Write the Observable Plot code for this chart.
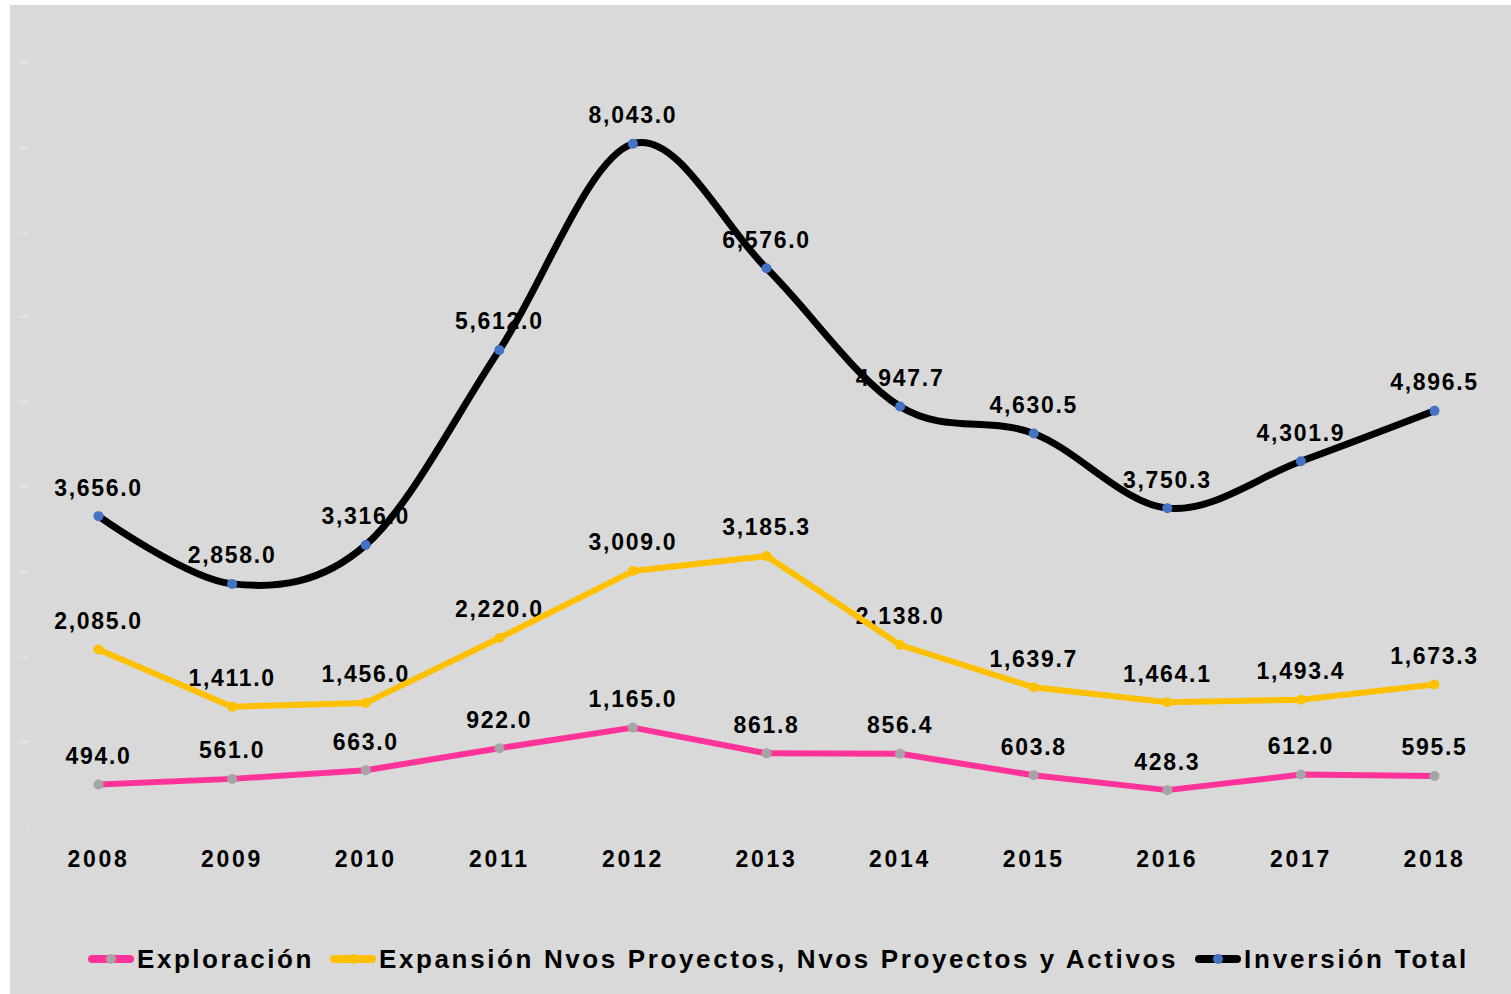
<!DOCTYPE html>
<html>
<head>
<meta charset="utf-8">
<script src="https://cdn.jsdelivr.net/npm/d3@7"></script>
<script src="https://cdn.jsdelivr.net/npm/@observablehq/plot@0.6"></script>
<style>
  html, body { margin: 0; padding: 0; background: #ffffff; width: 1511px; height: 994px; overflow: hidden; }
  #bg { position: absolute; left: 10px; top: 5px; width: 1501px; height: 989px; background: #d9d9d9;
        font-family: "Liberation Sans", Arial, sans-serif; }
  #chart { position: absolute; left: 0; top: 0; }
  #chart svg { background: transparent; }
  .xlab text { letter-spacing: 2.7px; }
  .vlab text { letter-spacing: 1.7px; }
  #legend { position: absolute; top: 931px; left: 0; width: 1501px; height: 46px; }
  .item { position: absolute; top: 0; height: 46px; display: flex; align-items: center; }
  .sw { position: relative; width: 46px; height: 46px; }
  .sw .ln { position: absolute; left: 0; right: 0; top: 19px; height: 8px; border-radius: 4px; }
  .sw .dt { position: absolute; left: 18px; top: 18px; width: 10px; height: 10px; border-radius: 5px; }
  .lt { font-size: 26px; font-weight: bold; color: #000; letter-spacing: 2px; margin-left: 3px; white-space: nowrap; }
</style>
</head>
<body>
<div id="bg">
  <div id="chart"></div>
  <div id="legend"></div>
</div>
<script>
const years = [2008, 2009, 2010, 2011, 2012, 2013, 2014, 2015, 2016, 2017, 2018];
const exploracion = [494.0, 561.0, 663.0, 922.0, 1165.0, 861.8, 856.4, 603.8, 428.3, 612.0, 595.5];
const expansion = [2085.0, 1411.0, 1456.0, 2220.0, 3009.0, 3185.3, 2138.0, 1639.7, 1464.1, 1493.4, 1673.3];
const inversionTotal = [3656.0, 2858.0, 3316.0, 5612.0, 8043.0, 6576.0, 4947.7, 4630.5, 3750.3, 4301.9, 4896.5];
const seriesNames = ["Exploración", "Expansión Nvos Proyectos, Nvos Proyectos y Activos", "Inversión Total"];
const lineColors = ["#ff3399", "#ffc000", "#000000"];
const dotColors = ["#a5a5a5", "#ffc000", "#4472c4"];
const yTicks = [0, 1000, 2000, 3000, 4000, 5000, 6000, 7000, 8000, 9000];

const toRows = (vals) => years.map((y, i) => ({year: y, value: vals[i]}));
const expl = toRows(exploracion), expa = toRows(expansion), tot = toRows(inversionTotal);
const fmt = d3.format(",.1f");

const textOpts = {x: "year", y: "value", text: d => fmt(d.value), dy: -28, fontSize: 23,
  fontWeight: "bold", fill: "#000", fontFamily: "Liberation Sans, Arial, sans-serif", className: "vlab"};

const chart = Plot.plot({
  width: 1501,
  height: 900,
  marginLeft: 88,
  marginRight: 77,
  marginTop: 57,
  marginBottom: 79,
  style: {background: "transparent", fontFamily: "Liberation Sans, Arial, sans-serif"},
  x: {domain: [2008, 2018], ticks: years, tickFormat: d => String(d)},
  y: {domain: [0, 9000]},
  marks: [
    Plot.axisY({ticks: yTicks, tickFormat: d3.format(","), tickSize: 0, tickPadding: 70,
      fontSize: 4, fill: "#f4f4f4", label: null}),
    Plot.axisX({ticks: years, tickFormat: d => String(d), tickSize: 0, tickPadding: 24,
      fontSize: 23, fontWeight: "bold", fill: "#000", label: null, className: "xlab"}),
    Plot.text(tot, textOpts),
    Plot.text(expa, textOpts),
    Plot.text(expl, textOpts),
    Plot.line(expl, {x: "year", y: "value", stroke: lineColors[0], strokeWidth: 6}),
    Plot.line(expa, {x: "year", y: "value", stroke: lineColors[1], strokeWidth: 6}),
    Plot.line(tot, {x: "year", y: "value", stroke: lineColors[2], strokeWidth: 7, curve: "cardinal", tension: 0}),
    Plot.dot(expl, {x: "year", y: "value", r: 5, fill: dotColors[0]}),
    Plot.dot(expa, {x: "year", y: "value", r: 5, fill: dotColors[1]}),
    Plot.dot(tot, {x: "year", y: "value", r: 5, fill: dotColors[2]})
  ]
});
document.getElementById("chart").appendChild(chart);

const legend = document.getElementById("legend");
const lefts = [78, 320, 1185];
const spacings = [2.55, 2.62, 2.8];
seriesNames.forEach((name, i) => {
  const it = document.createElement("div");
  it.className = "item";
  it.style.left = lefts[i] + "px";
  it.innerHTML = `<div class="sw"><div class="ln" style="background:${lineColors[i]}"></div>` +
    `<div class="dt" style="background:${dotColors[i]}"></div></div>` +
    `<span class="lt" style="letter-spacing:${spacings[i]}px">${name}</span>`;
  legend.appendChild(it);
});
</script>
</body>
</html>
